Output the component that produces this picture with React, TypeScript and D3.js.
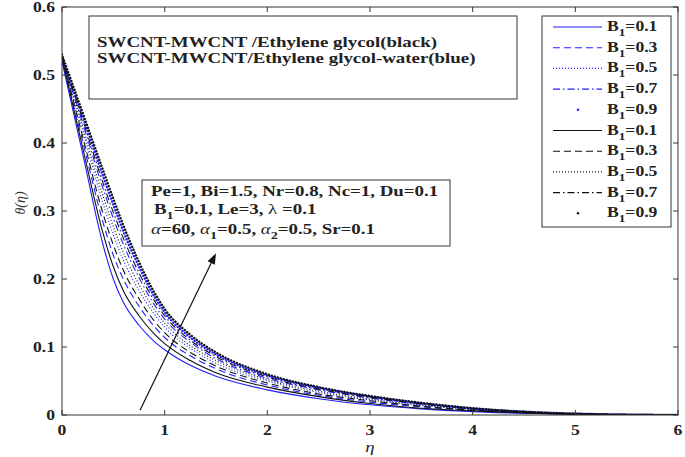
import * as d3 from "d3";
import type { ReactNode } from "react";

// η grid shared by every curve
const eta = [0, 0.2, 0.4, 0.5, 0.6, 0.75, 0.9, 1.0, 1.25, 1.5, 2, 2.5, 3, 3.5, 4, 4.5, 5, 6];

// θ(η), one array per curve
const blue01 = [0.52, 0.385, 0.25, 0.2, 0.165, 0.132, 0.108, 0.096, 0.073, 0.057, 0.037, 0.024, 0.015, 0.009, 0.005, 0.0025, 0.001, 0];
const blue03 = [0.522, 0.403, 0.283, 0.235, 0.199, 0.16, 0.13, 0.114, 0.087, 0.068, 0.044, 0.029, 0.019, 0.012, 0.0065, 0.0033, 0.0013, 0];
const blue05 = [0.523, 0.418, 0.311, 0.265, 0.227, 0.183, 0.148, 0.129, 0.098, 0.076, 0.05, 0.033, 0.022, 0.014, 0.0078, 0.0039, 0.0015, 0];
const blue07 = [0.524, 0.43, 0.333, 0.289, 0.25, 0.202, 0.162, 0.141, 0.107, 0.083, 0.054, 0.037, 0.025, 0.016, 0.0088, 0.0044, 0.0017, 0];
const blue09 = [0.525, 0.44, 0.351, 0.309, 0.269, 0.218, 0.174, 0.151, 0.114, 0.089, 0.058, 0.04, 0.027, 0.017, 0.0096, 0.0048, 0.0019, 0];
const black01 = [0.525, 0.394, 0.267, 0.218, 0.182, 0.146, 0.119, 0.105, 0.08, 0.062, 0.041, 0.027, 0.017, 0.01, 0.006, 0.003, 0.001, 0];
const black03 = [0.527, 0.41, 0.296, 0.25, 0.212, 0.171, 0.138, 0.121, 0.092, 0.072, 0.047, 0.031, 0.021, 0.013, 0.007, 0.0035, 0.0014, 0];
const black05 = [0.528, 0.424, 0.322, 0.277, 0.238, 0.192, 0.155, 0.135, 0.102, 0.08, 0.052, 0.035, 0.0235, 0.015, 0.0083, 0.0041, 0.0016, 0];
const black07 = [0.529, 0.435, 0.341, 0.298, 0.259, 0.209, 0.168, 0.146, 0.11, 0.086, 0.056, 0.038, 0.026, 0.0165, 0.0092, 0.0046, 0.0018, 0];
const black09 = [0.53, 0.445, 0.36, 0.318, 0.278, 0.225, 0.18, 0.156, 0.118, 0.092, 0.06, 0.041, 0.028, 0.018, 0.01, 0.005, 0.002, 0];

const legendLabels = ["0.1", "0.3", "0.5", "0.7", "0.9", "0.1", "0.3", "0.5", "0.7", "0.9"];
const xTicks = [0, 1, 2, 3, 4, 5, 6];
const yTicks = [0, 0.1, 0.2, 0.3, 0.4, 0.5, 0.6];

// arrow annotation in data units: tail, head
const arrowTail = [0.76, 0.007];
const arrowHead = [1.5, 0.238];

const BLUE = "#1f1fff";
const BLACK = "#111";
const styles: Record<string, { dash: string; width: number; cap: string }> = {
  solid: { dash: "none", width: 1.1, cap: "butt" },
  dashed: { dash: "7 4", width: 1.1, cap: "butt" },
  dotted: { dash: "1 2", width: 1.1, cap: "butt" },
  dashdot: { dash: "7 3 1.5 3", width: 1.1, cap: "butt" },
  point: { dash: "0.1 3", width: 2.4, cap: "round" },
};

const series = [
  { v: blue01, color: BLUE, s: "solid" },
  { v: blue03, color: BLUE, s: "dashed" },
  { v: blue05, color: BLUE, s: "dotted" },
  { v: blue07, color: BLUE, s: "dashdot" },
  { v: blue09, color: BLUE, s: "point" },
  { v: black01, color: BLACK, s: "solid" },
  { v: black03, color: BLACK, s: "dashed" },
  { v: black05, color: BLACK, s: "dotted" },
  { v: black07, color: BLACK, s: "dashdot" },
  { v: black09, color: BLACK, s: "point" },
];

const W = 685;
const H = 457;
const margin = { left: 62, right: 7, top: 7, bottom: 42 };
const FONT = "'Liberation Serif', 'Times New Roman', serif";
const SX = 1.26; // the source figure is stretched sideways

function T({
  x, y, size = 15, anchor = "start", bold = true, italic = false, children,
}: {
  x: number; y: number; size?: number; anchor?: string; bold?: boolean; italic?: boolean; children: ReactNode;
}) {
  return (
    <text
      transform={`translate(${x},${y}) scale(${SX},1)`}
      textAnchor={anchor as any}
      fontSize={size}
      fontWeight={bold ? "bold" : "normal"}
      fontStyle={italic ? "italic" : "normal"}
      fill="#222"
    >
      {children}
    </text>
  );
}

export default function App() {
  const x = d3.scaleLinear().domain([0, 6]).range([margin.left, W - margin.right]);
  const y = d3.scaleLinear().domain([0, 0.6]).range([H - margin.bottom, margin.top]);
  const line = d3
    .line<number>()
    .x((_, i) => x(eta[i]))
    .y((d) => y(d))
    .curve(d3.curveMonotoneX);

  const x0 = x(0), x1 = x(6), y0 = y(0), y1 = y(0.6);
  const tk = 5;

  const ax = x(arrowTail[0]), ay = y(arrowTail[1]);
  const hx = x(arrowHead[0]), hy = y(arrowHead[1]);
  const ang = Math.atan2(hy - ay, hx - ax);
  const hl = 11, hw = 4;
  const bx = hx - hl * Math.cos(ang), by = hy - hl * Math.sin(ang);
  const head = `M${hx},${hy} L${bx + hw * Math.sin(ang)},${by - hw * Math.cos(ang)} L${bx - hw * Math.sin(ang)},${by + hw * Math.cos(ang)} Z`;

  const sub = (s: string) => (
    <tspan dy={5} fontSize="0.75em">{s}</tspan>
  );
  const up = (s: string) => <tspan dy={-5}>{s}</tspan>;
  const alpha = <tspan fontStyle="italic" fontWeight="normal">α</tspan>;

  return (
    <svg width={W} height={H} style={{ position: "absolute", left: 0, top: 0, background: "#fff" }} fontFamily={FONT}>
      <defs>
        <clipPath id="plot">
          <rect x={x0} y={y1} width={x1 - x0} height={y0 - y1} />
        </clipPath>
      </defs>

      <g clipPath="url(#plot)">
        {series.map((d, i) => {
          const st = styles[d.s];
          return (
            <path
              key={i}
              d={line(d.v) ?? ""}
              fill="none"
              stroke={d.color}
              strokeWidth={st.width}
              strokeDasharray={st.dash}
              strokeLinecap={st.cap as any}
            />
          );
        })}
      </g>

      {/* axes box and ticks */}
      <rect x={x0} y={y1} width={x1 - x0} height={y0 - y1} fill="none" stroke="#333" strokeWidth={1} />
      {xTicks.map((t) => (
        <g key={"x" + t}>
          <line x1={x(t)} x2={x(t)} y1={y0} y2={y0 - tk} stroke="#333" />
          <line x1={x(t)} x2={x(t)} y1={y1} y2={y1 + tk} stroke="#333" />
          <T x={x(t)} y={y0 + 20} size={14} anchor="middle">{t}</T>
        </g>
      ))}
      {yTicks.map((t) => (
        <g key={"y" + t}>
          <line x1={x0} x2={x0 + tk} y1={y(t)} y2={y(t)} stroke="#333" />
          <line x1={x1} x2={x1 - tk} y1={y(t)} y2={y(t)} stroke="#333" />
          <T x={x0 - 7} y={y(t) + 5} size={14} anchor="end">
            {t === 0 ? "0" : d3.format(".1f")(t)}
          </T>
        </g>
      ))}

      <T x={(x0 + x1) / 2} y={452} size={15} anchor="middle" bold={false} italic>η</T>
      <text transform={`translate(25,203) rotate(-90)`} textAnchor="middle" fontSize={14} fontStyle="italic" fill="#333">
        θ(η)
      </text>

      {/* title box */}
      <rect x={89} y={16} width={428} height={83} fill="#fff" stroke="#333" strokeWidth={1} />
      <T x={97} y={47}>SWCNT-MWCNT /Ethylene glycol(black)</T>
      <T x={97} y={63}>SWCNT-MWCNT/Ethylene glycol-water(blue)</T>

      {/* parameter box */}
      <rect x={142} y={180} width={308} height={66} fill="#fff" stroke="#333" strokeWidth={1} />
      <T x={151} y={196}>Pe=1, Bi=1.5, Nr=0.8, Nc=1, Du=0.1</T>
      <T x={154} y={214}>
        B{sub("1")}{up("=0.1, Le=3, ")}
        <tspan fontWeight="normal">λ</tspan>
        {" =0.1"}
      </T>
      <T x={151} y={234}>
        {alpha}
        {"=60, "}
        {alpha}
        {sub("1")}
        {up("=0.5, ")}
        {alpha}
        {sub("2")}
        {up("=0.5, Sr=0.1")}
      </T>

      {/* arrow */}
      <line x1={ax} y1={ay} x2={bx} y2={by} stroke="#111" strokeWidth={1.2} />
      <path d={head} fill="#111" />

      {/* legend */}
      <rect x={542} y={16} width={129} height={211} fill="#fff" stroke="#333" strokeWidth={1} />
      {legendLabels.map((lab, i) => {
        const d = series[i];
        const st = styles[d.s];
        const ly = 27 + i * 20.7;
        return (
          <g key={"l" + i}>
            {d.s === "point" ? (
              <circle cx={578} cy={ly} r={1.2} fill={d.color} />
            ) : (
              <line x1={553} x2={602} y1={ly} y2={ly} stroke={d.color} strokeWidth={st.width} strokeDasharray={st.dash} />
            )}
            <T x={607} y={ly + 4} size={14}>
              B{sub("1")}{up("=" + lab)}
            </T>
          </g>
        );
      })}
    </svg>
  );
}
